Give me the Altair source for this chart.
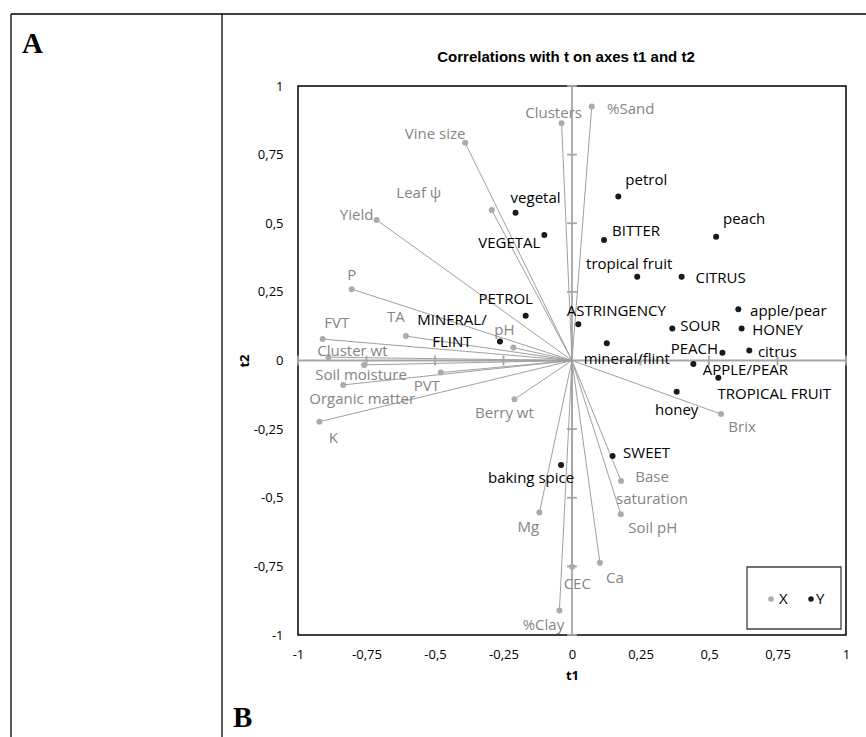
import altair as alt
import pandas as pd

# ---- X block: vineyard / vine / soil variables, correlations with t1 and t2 ----
X_NAMES = ["Clusters", "%Sand", "Vine size", "Leaf ψ", "Yield", "P", "FVT", "TA", "pH",
           "Cluster wt", "Soil moisture", "PVT", "Organic matter", "K", "Berry wt", "Mg",
           "CEC", "%Clay", "Ca", "Soil pH", "Base\nsaturation", "Brix"]
X_T1 = [-0.038, 0.072, -0.390, -0.293, -0.713, -0.804, -0.910, -0.606, -0.214,
        -0.889, -0.759, -0.479, -0.835, -0.922, -0.210, -0.119,
        0.001, -0.046, 0.102, 0.178, 0.179, 0.544]
X_T2 = [0.864, 0.925, 0.793, 0.548, 0.512, 0.260, 0.078, 0.089, 0.047,
        0.012, -0.016, -0.044, -0.089, -0.223, -0.141, -0.554,
        -0.751, -0.911, -0.737, -0.560, -0.439, -0.195]

# ---- Y block: sensory attributes ----
Y_NAMES = ["vegetal", "VEGETAL", "PETROL", "MINERAL/\nFLINT", "ASTRINGENCY", "petrol",
           "BITTER", "peach", "tropical fruit", "CITRUS", "apple/pear", "HONEY", "SOUR",
           "mineral/flint", "PEACH", "citrus", "APPLE/PEAR", "TROPICAL FRUIT", "honey",
           "SWEET", "baking spice"]
Y_T1 = [-0.206, -0.101, -0.169, -0.263, 0.023, 0.169,
        0.117, 0.526, 0.238, 0.400, 0.607, 0.619, 0.366,
        0.127, 0.549, 0.647, 0.443, 0.534, 0.382,
        0.148, -0.040]
Y_T2 = [0.538, 0.457, 0.163, 0.069, 0.132, 0.597,
        0.439, 0.451, 0.305, 0.305, 0.187, 0.117, 0.117,
        0.063, 0.028, 0.036, -0.013, -0.063, -0.114,
        -0.348, -0.381]

TICK_VALUES = [-1, -0.75, -0.5, -0.25, 0, 0.25, 0.5, 0.75, 1]
GROUPS = ["X", "Y"]

# Label placement: offset (px) of each label's (first line) centre from its point
X_LABEL_OFFSETS = {
    "Clusters": (-8, -10), "%Sand": (39, 2), "Vine size": (-30, -9), "Leaf ψ": (-73, -17),
    "Yield": (-20, -5), "P": (0, -14), "FVT": (14, -16), "TA": (-10, -19), "pH": (-9, -18),
    "Cluster wt": (24, -6), "Soil moisture": (-3, 10), "PVT": (-14, 13),
    "Organic matter": (19, 14), "K": (14, 16), "Berry wt": (-10, 14), "Mg": (-11, 14),
    "CEC": (5, 17), "%Clay": (-16, 14), "Ca": (15, 15), "Soil pH": (32, 14),
    "Base\nsaturation": (31, -4), "Brix": (21, 13),
}
Y_LABEL_OFFSETS = {
    "vegetal": (20, -15), "VEGETAL": (-35, 8), "PETROL": (-20, -17),
    "MINERAL/\nFLINT": (-48, -22), "ASTRINGENCY": (38, -13), "petrol": (28, -17),
    "BITTER": (32, -9), "peach": (28, -18), "tropical fruit": (-8, -13), "CITRUS": (39, 1),
    "apple/pear": (50, 2), "HONEY": (36, 2), "SOUR": (28, -2), "mineral/flint": (20, 16),
    "PEACH": (-28, -4), "citrus": (28, 1), "APPLE/PEAR": (52, 6), "TROPICAL FRUIT": (56, 16),
    "honey": (0, 18), "SWEET": (34, -3), "baking spice": (-30, 13),
}

GRAY_DOT = "#ababab"
GRAY_TEXT = "#858585"
GRAY_LINE = "#a0a0a0"
AXIS_GRAY = "#a6a6a6"
BLACK_DOT = "#1a1a1a"
LABEL_FONT = "Open Sans"
LABEL_SIZE = 15

W, H = 548, 549
PAD = {"left": 298, "top": 86, "right": 20, "bottom": 102}
PX_PER_UNIT_X = W / 2.0   # domain [-1, 1]
PX_PER_UNIT_Y = H / 2.0

x_df = pd.DataFrame({"name": X_NAMES, "t1": X_T1, "t2": X_T2})
x_df["grp"] = "X"
x_df["o"] = 0.0
x_df["dx"] = [X_LABEL_OFFSETS[n][0] for n in X_NAMES]
x_df["dy"] = [X_LABEL_OFFSETS[n][1] for n in X_NAMES]

y_df = pd.DataFrame({"name": Y_NAMES, "t1": Y_T1, "t2": Y_T2})
y_df["grp"] = "Y"
y_df["dx"] = [Y_LABEL_OFFSETS[n][0] for n in Y_NAMES]
y_df["dy"] = [Y_LABEL_OFFSETS[n][1] for n in Y_NAMES]

pts_df = pd.concat([x_df[["name", "t1", "t2", "grp"]], y_df[["name", "t1", "t2", "grp"]]])

# zero axes through the origin, plus their small cross ticks
TICK_HALF = 0.018
rule_rows = [
    {"x1": -1, "x2": 1, "y1": 0, "y2": 0},
    {"x1": 0, "x2": 0, "y1": -1, "y2": 1},
]
for v in TICK_VALUES:
    if v == 0:
        continue
    rule_rows.append({"x1": v, "x2": v, "y1": -TICK_HALF, "y2": TICK_HALF})
    rule_rows.append({"x1": -TICK_HALF, "x2": TICK_HALF, "y1": v, "y2": v})
rules_df = pd.DataFrame(rule_rows)

SX = alt.Scale(domain=[-1, 1], nice=False, zero=False)
SY = alt.Scale(domain=[-1, 1], nice=False, zero=False)
COLOR = alt.Color("grp:N", scale=alt.Scale(domain=GROUPS, range=[GRAY_DOT, BLACK_DOT]),
                  legend=None)
LABEL_EXPR = "replace(toString(datum.value), '.', ',')"
AX_X = alt.Axis(values=TICK_VALUES, labelExpr=LABEL_EXPR, grid=False, ticks=False,
                domain=False, labelFlush=False, labelPadding=13, labelFont=LABEL_FONT,
                labelFontSize=13, labelColor="black", title="t1", titleFont=LABEL_FONT,
                titleFontSize=13, titleFontWeight="bold", titlePadding=8, titleColor="black")
AX_Y = alt.Axis(values=TICK_VALUES, labelExpr=LABEL_EXPR, grid=False, ticks=False,
                domain=False, labelFlush=False, labelPadding=15, labelFont=LABEL_FONT,
                labelFontSize=13, labelColor="black", title="t2", titleFont=LABEL_FONT,
                titleFontSize=13, titleFontWeight="bold", titlePadding=2, titleColor="black")

axes_layer = alt.Chart(rules_df).mark_rule(color=AXIS_GRAY, strokeWidth=1.8).encode(
    x=alt.X("x1:Q", scale=SX, axis=AX_X), x2="x2:Q",
    y=alt.Y("y1:Q", scale=SY, axis=AX_Y), y2="y2:Q",
)

vectors = alt.Chart(x_df).mark_rule(color=GRAY_LINE, strokeWidth=1).encode(
    x=alt.X("t1:Q", scale=SX, axis=AX_X), x2="o:Q",
    y=alt.Y("t2:Q", scale=SY, axis=AX_Y), y2="o:Q",
)

points = alt.Chart(pts_df).mark_point(filled=True, size=36, opacity=1).encode(
    x=alt.X("t1:Q", scale=SX, axis=AX_X),
    y=alt.Y("t2:Q", scale=SY, axis=AX_Y),
    color=COLOR,
)


def label_layer(df, colour):
    """Text labels placed around their points; offsets are converted from px to axis units."""
    return alt.Chart(df).transform_calculate(
        lx=f"datum.t1 + datum.dx / {PX_PER_UNIT_X}",
        ly=f"datum.t2 - datum.dy / {PX_PER_UNIT_Y}",
    ).mark_text(
        font=LABEL_FONT, fontSize=LABEL_SIZE, color=colour, align="center",
        baseline="middle", lineBreak="\n", lineHeight=22,
    ).encode(
        x=alt.X("lx:Q", scale=SX, axis=AX_X),
        y=alt.Y("ly:Q", scale=SY, axis=AX_Y),
        text="name:N",
    )


x_labels = label_layer(x_df, GRAY_TEXT)
y_labels = label_layer(y_df, "black")

# ---- legend box (bottom-right corner of the plot) ----
legend_df = pd.DataFrame({"grp": GROUPS, "slot": [0, 1]})
LEG_X0, LEG_Y0, LEG_W, LEG_H = 449, 481, 94, 62
legend_box = alt.Chart(legend_df.head(1)).mark_rect(
    fill="white", stroke="#404040", strokeWidth=1.3,
).encode(x=alt.value(LEG_X0), x2=alt.value(LEG_X0 + LEG_W),
         y=alt.value(LEG_Y0), y2=alt.value(LEG_Y0 + LEG_H))
legend_dots = alt.Chart(legend_df).transform_calculate(
    px=f"{LEG_X0 + 24} + datum.slot * 40",
).mark_point(filled=True, size=30, opacity=1).encode(
    x=alt.X("px:Q", scale=None), y=alt.value(LEG_Y0 + 32), color=COLOR,
)
legend_text = alt.Chart(legend_df).transform_calculate(
    px=f"{LEG_X0 + 32} + datum.slot * 37",
).mark_text(font=LABEL_FONT, fontSize=LABEL_SIZE, align="left", baseline="middle",
            color="black").encode(
    x=alt.X("px:Q", scale=None), y=alt.value(LEG_Y0 + 32), text="grp:N",
)

# ---- surrounding table frame, panel letters and chart heading ----
one = pd.DataFrame({"k": [0]})
left_edge = -PAD["left"]
top_line = alt.Chart(one).mark_rule(color="black", strokeWidth=1.3).encode(
    x=alt.value(left_edge + 11), x2=alt.value(W + PAD["right"]), y=alt.value(-72))
left_line = alt.Chart(one).mark_rule(color="black", strokeWidth=1.3).encode(
    x=alt.value(left_edge + 11), y=alt.value(-72), y2=alt.value(H + PAD["bottom"]))
divider = alt.Chart(one).mark_rule(color="black", strokeWidth=1.3).encode(
    x=alt.value(left_edge + 222), y=alt.value(-72), y2=alt.value(H + PAD["bottom"]))

panel_a = alt.Chart(one).mark_text(
    font="Liberation Serif", fontWeight="bold", fontSize=29, align="left",
    baseline="alphabetic", color="black",
).encode(x=alt.value(left_edge + 22), y=alt.value(53 - PAD["top"]), text=alt.value("A"))
panel_b = alt.Chart(one).mark_text(
    font="Liberation Serif", fontWeight="bold", fontSize=29, align="left",
    baseline="alphabetic", color="black",
).encode(x=alt.value(left_edge + 233), y=alt.value(727 - PAD["top"]), text=alt.value("B"))
heading = alt.Chart(one).mark_text(
    font="Liberation Sans", fontWeight="bold", fontSize=15, align="center",
    baseline="middle", color="black",
).encode(x=alt.value(W / 2 - 6), y=alt.value(57 - PAD["top"]),
         text=alt.value("Correlations with t on axes t1 and t2"))

chart = alt.layer(
    axes_layer, vectors, points, x_labels, y_labels,
    legend_box, legend_dots, legend_text,
    top_line, left_line, divider, panel_a, panel_b, heading,
).properties(
    width=W, height=H, padding=PAD, autosize=alt.AutoSizeParams(type="none"),
    background="white",
).configure_view(
    stroke="black", strokeWidth=1.5,
)

chart.save("out.html", embed_options={"renderer": "svg", "actions": False})
